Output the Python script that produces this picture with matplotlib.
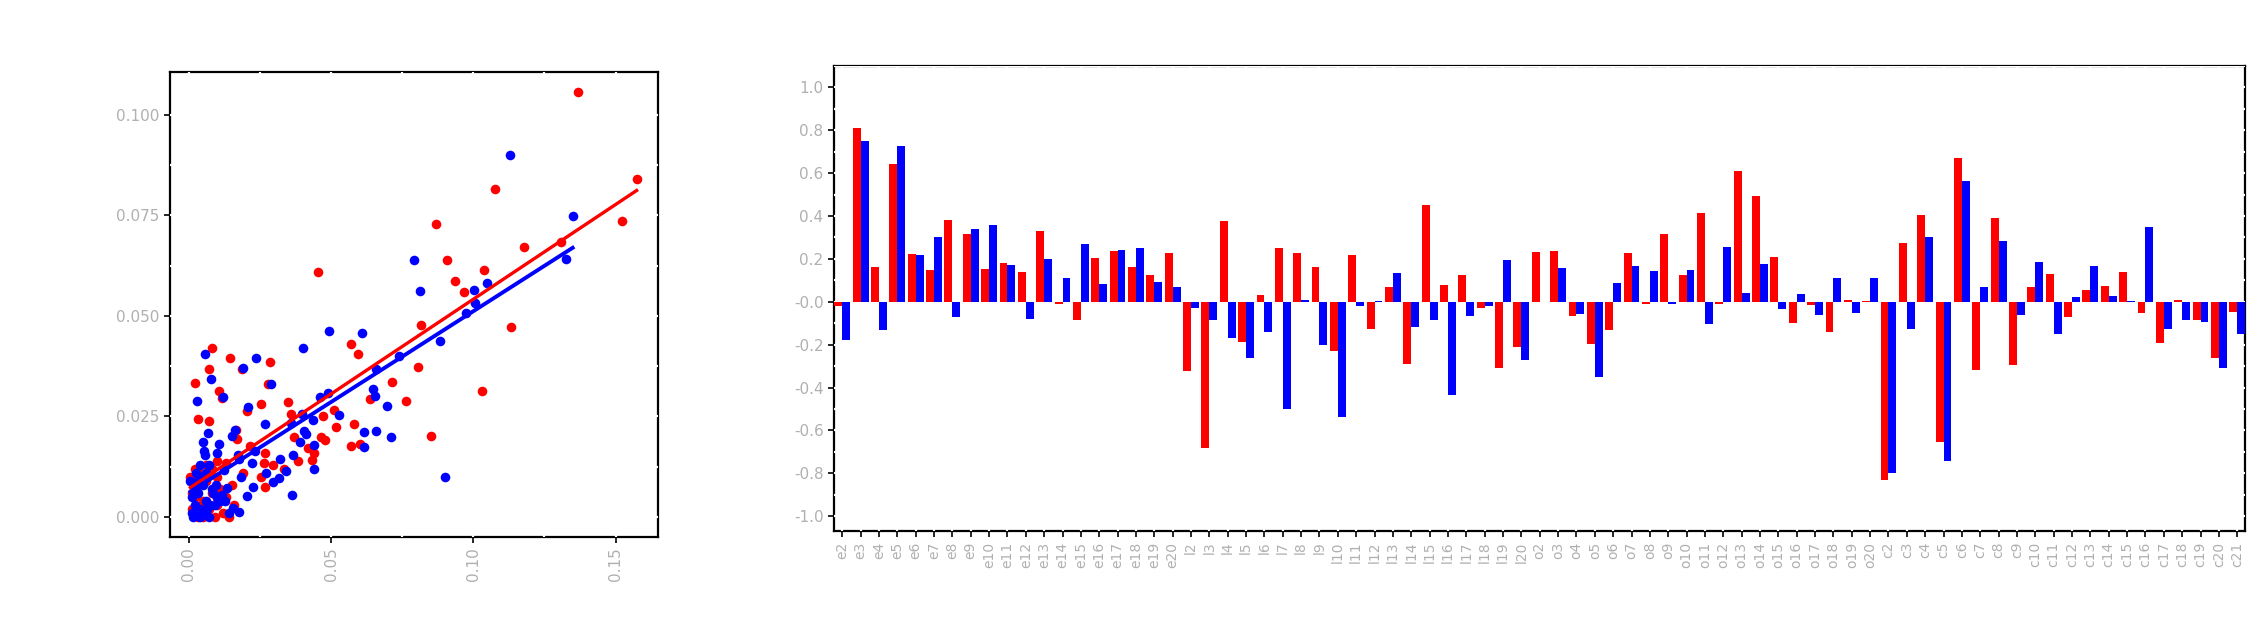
import numpy as np
import matplotlib
matplotlib.use("Agg")
import matplotlib.pyplot as plt
from matplotlib.ticker import MultipleLocator

plt.rcParams['axes.unicode_minus'] = False
plt.rcParams['font.family'] = ['DejaVu Sans']

# scatter data (left panel)
red_x = [0.1368, 0.1574, 0.1522, 0.1076, 0.0870, 0.0908, 0.1177, 0.1309, 0.1037, 0.0936,
         0.0967, 0.0453, 0.0817, 0.1131, 0.0568, 0.0595, 0.0806, 0.0715, 0.0762, 0.1031,
         0.0851, 0.0637, 0.0579, 0.0518, 0.0472, 0.0510, 0.0464, 0.0570, 0.0600, 0.0438,
         0.0433, 0.0082, 0.0143, 0.0285, 0.0069, 0.0186, 0.0020, 0.0279, 0.0107, 0.0116,
         0.0253, 0.0349, 0.0203, 0.0031, 0.0069, 0.0359, 0.0370, 0.0167, 0.0170, 0.0216,
         0.0266, 0.0098, 0.0129, 0.0263, 0.0297, 0.0189, 0.0252, 0.0269, 0.0384, 0.0135,
         0.0098, 0.0334, 0.0420, 0.0480, 0.0010, 0.0020, 0.0030, 0.0040, 0.0050, 0.0060,
         0.0070, 0.0080, 0.0090, 0.0100, 0.0110, 0.0120, 0.0005, 0.0020, 0.0040, 0.0060,
         0.0030, 0.0050, 0.0080, 0.0100, 0.0130, 0.0150, 0.0160, 0.0140, 0.0010, 0.0070]
red_y = [0.1057, 0.0839, 0.0736, 0.0816, 0.0727, 0.0639, 0.0671, 0.0683, 0.0614, 0.0586,
         0.0560, 0.0608, 0.0478, 0.0471, 0.0430, 0.0405, 0.0373, 0.0335, 0.0289, 0.0313,
         0.0201, 0.0292, 0.0231, 0.0224, 0.0251, 0.0265, 0.0199, 0.0177, 0.0180, 0.0158,
         0.0142, 0.0420, 0.0395, 0.0385, 0.0367, 0.0367, 0.0332, 0.0330, 0.0313, 0.0295,
         0.0281, 0.0286, 0.0263, 0.0244, 0.0239, 0.0255, 0.0199, 0.0217, 0.0193, 0.0175,
         0.0158, 0.0139, 0.0134, 0.0134, 0.0129, 0.0110, 0.0100, 0.0074, 0.0139, 0.0007,
         0.0048, 0.0120, 0.0170, 0.0190, 0.0020, 0.0050, 0.0080, 0.0010, 0.0040, 0.0090,
         0.0020, 0.0060, 0.0000, 0.0030, 0.0070, 0.0010, 0.0100, 0.0120, 0.0110, 0.0130,
         0.0000, 0.0000, 0.0120, 0.0100, 0.0050, 0.0080, 0.0030, 0.0000, 0.0060, 0.0105]

blue_x = [0.1128, 0.1349, 0.1325, 0.0790, 0.0811, 0.1003, 0.1047, 0.0974, 0.1007, 0.0884,
          0.0493, 0.0609, 0.0401, 0.0740, 0.0656, 0.0648, 0.0653, 0.0696, 0.0711, 0.0658,
          0.0617, 0.0614, 0.0900, 0.0527, 0.0489, 0.0460, 0.0436, 0.0397, 0.0359, 0.0403,
          0.0412, 0.0392, 0.0439, 0.0441, 0.0365, 0.0321, 0.0341, 0.0318, 0.0296, 0.0362,
          0.0225, 0.0205, 0.0223, 0.0231, 0.0176, 0.0184, 0.0173, 0.0271, 0.0150, 0.0161,
          0.0208, 0.0269, 0.0290, 0.0236, 0.0189, 0.0118, 0.0058, 0.0079, 0.0028, 0.0068,
          0.0050, 0.0054, 0.0055, 0.0038, 0.0072, 0.0104, 0.0099, 0.0124, 0.0132, 0.0115,
          0.0153, 0.0176, 0.0010, 0.0020, 0.0030, 0.0040, 0.0050, 0.0060, 0.0070, 0.0080,
          0.0090, 0.0100, 0.0005, 0.0015, 0.0025, 0.0035, 0.0045, 0.0065, 0.0085, 0.0110,
          0.0020, 0.0040, 0.0060, 0.0075, 0.0095, 0.0125, 0.0140, 0.0010, 0.0030, 0.0050]
blue_y = [0.0900, 0.0749, 0.0642, 0.0638, 0.0562, 0.0565, 0.0581, 0.0507, 0.0533, 0.0438,
          0.0462, 0.0456, 0.0420, 0.0400, 0.0368, 0.0319, 0.0301, 0.0276, 0.0199, 0.0213,
          0.0211, 0.0174, 0.0100, 0.0254, 0.0308, 0.0297, 0.0242, 0.0256, 0.0234, 0.0213,
          0.0206, 0.0187, 0.0179, 0.0118, 0.0153, 0.0144, 0.0115, 0.0096, 0.0086, 0.0055,
          0.0075, 0.0051, 0.0134, 0.0163, 0.0144, 0.0100, 0.0153, 0.0110, 0.0201, 0.0215,
          0.0273, 0.0231, 0.0330, 0.0395, 0.0370, 0.0299, 0.0405, 0.0344, 0.0289, 0.0209,
          0.0187, 0.0163, 0.0153, 0.0129, 0.0129, 0.0182, 0.0158, 0.0117, 0.0072, 0.0055,
          0.0022, 0.0012, 0.0010, 0.0030, 0.0060, 0.0020, 0.0080, 0.0040, 0.0000, 0.0070,
          0.0030, 0.0050, 0.0090, 0.0000, 0.0110, 0.0010, 0.0100, 0.0020, 0.0060, 0.0040,
          0.0070, 0.0000, 0.0110, 0.0030, 0.0080, 0.0040, 0.0010, 0.0050, 0.0090, 0.0015]

# bar data (right panel)
red_vals = [-0.02, 0.81, 0.163, 0.643, 0.224, 0.148, 0.38, 0.314, 0.153, 0.182,
            0.139, 0.332, -0.01, -0.083, 0.206, 0.235, 0.163, 0.126, 0.228, -0.321,
            -0.683, 0.376, -0.186, 0.031, 0.249, 0.229, 0.163, -0.229, 0.217, -0.125,
            0.07, -0.29, 0.453, 0.079, 0.123, -0.029, -0.309, -0.212, 0.233, 0.239,
            -0.067, -0.197, -0.13, 0.228, -0.011, 0.315, 0.123, 0.416, -0.011, 0.608,
            0.492, 0.21, -0.098, -0.014, -0.141, 0.007, 0.005, -0.833, 0.275, 0.404,
            -0.655, 0.671, -0.317, 0.393, -0.293, 0.069, 0.13, -0.072, 0.054, 0.072,
            0.138, -0.054, -0.194, 0.007, -0.087, -0.264, -0.049]
blue_vals = [-0.18, 0.75, -0.13, 0.728, 0.218, 0.303, -0.07, 0.34, 0.36, 0.172,
             -0.078, 0.199, 0.11, 0.269, 0.085, 0.242, 0.251, 0.092, 0.067, -0.029,
             -0.085, -0.168, -0.26, -0.143, -0.498, 0.007, -0.202, -0.538, -0.018, 0.002,
             0.135, -0.119, -0.087, -0.435, -0.065, -0.022, 0.194, -0.273, 0.0, 0.159,
             -0.058, -0.353, 0.087, 0.168, 0.145, -0.011, 0.148, -0.105, 0.257, 0.042,
             0.177, -0.036, 0.038, -0.063, 0.109, -0.054, 0.109, -0.8, -0.125, 0.304,
             -0.744, 0.561, 0.067, 0.284, -0.063, 0.185, -0.152, 0.024, 0.165, 0.025,
             0.005, 0.351, -0.127, -0.087, -0.094, -0.309, -0.152]
bar_labels = ([f"e{i}" for i in range(2, 21)] + [f"l{i}" for i in range(2, 21)]
              + [f"o{i}" for i in range(2, 21)] + [f"c{i}" for i in range(2, 22)])

label_color = '#b0b0b0'

fig = plt.figure(figsize=(22.62, 6.4), dpi=100)
ax1 = fig.add_axes([0.075, 0.161, 0.216, 0.727])
ax2 = fig.add_axes([0.3687, 0.170, 0.624, 0.727])

# left: scatter with fitted lines
ax1.scatter(red_x, red_y, s=48, color='red', zorder=3, linewidths=0)
ax1.scatter(blue_x, blue_y, s=48, color='blue', zorder=3, linewidths=0)
for xs, ys, c, lw in [(red_x, red_y, 'red', 2.4), (blue_x, blue_y, 'blue', 2.8)]:
    k, b = np.polyfit(xs, ys, 1)
    xx = np.array([min(xs), max(xs)])
    ax1.plot(xx, k * xx + b, color=c, lw=lw, zorder=4)
ax1.set_xlim(-0.0068, 0.165)
ax1.set_ylim(-0.005, 0.1107)
ax1.set_xticks([0.0, 0.05, 0.10, 0.15])
ax1.set_xticklabels(["0.00", "0.05", "0.10", "0.15"], rotation=90)
ax1.set_yticks([0.0, 0.025, 0.05, 0.075, 0.1])
ax1.set_yticklabels(["0.000", "0.025", "0.050", "0.075", "0.100"])
ax1.xaxis.set_minor_locator(MultipleLocator(0.025))
ax1.yaxis.set_minor_locator(MultipleLocator(0.0125))

# right: grouped bars
x = np.arange(len(red_vals))
w = 0.43
ax2.bar(x - w / 2, red_vals, w, color='red', zorder=3, linewidth=0)
ax2.bar(x + w / 2, blue_vals, w, color='blue', zorder=3, linewidth=0)
ax2.set_xlim(-0.45, len(red_vals) - 0.55)
ax2.set_ylim(-1.07, 1.1)
yt = np.round(np.arange(-1.0, 1.01, 0.2), 1)
ax2.set_yticks(yt)
ax2.set_yticklabels([f"{v:.1f}" for v in yt])
ax2.yaxis.set_minor_locator(MultipleLocator(0.1))
ax2.set_xticks(x)
ax2.set_xticklabels(bar_labels, rotation=90)

for ax in (ax1, ax2):
    ax.set_axisbelow('line')
    for sp in ax.spines.values():
        sp.set_color('black')
        sp.set_linewidth(1.6)
        sp.set_zorder(1)
    ax.grid(True, which='both', color='white', linewidth=1.6)
    ax.tick_params(which='major', direction='out', length=4, width=1.2,
                   color='black', labelcolor=label_color, labelsize=11)
    ax.tick_params(which='minor', length=0)
ax2.tick_params(axis='x', labelsize=10)

fig.savefig("out.png", dpi=100)
